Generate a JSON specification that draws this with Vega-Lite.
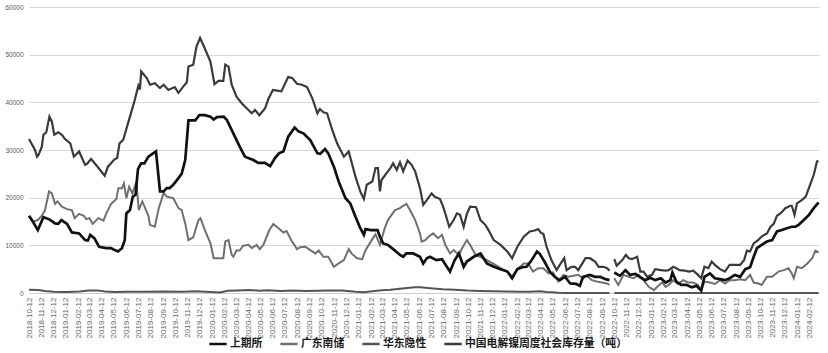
{
"$schema": "https://vega.github.io/schema/vega-lite/v6.json",
"autosize": "none",
"width": 790,
"height": 286,
"padding": {"left": 29, "top": 7, "right": 9, "bottom": 60},
"background": "#ffffff",
"config": {"view": {"stroke": null}, "font": "Liberation Sans"},
"encoding": {
  "x": {"field": "d", "type": "temporal", "title": null,
    "scale": {"type": "utc", "domain": [{"year": 2018, "month": 10, "date": 12, "utc": true}, {"year": 2024, "month": 3, "date": 6, "utc": true}]},
    "axis": {"format": "%Y-%m-%d", "labelAngle": -90, "labelFontSize": 8, "labelColor": "#666666", "labelPadding": 4, "labelOverlap": false, "labelBound": false, "labelFlush": false, "ticks": false, "grid": false, "domain": true, "domainColor": "#cfcfcf", "domainWidth": 1,
      "values": [
        {"year":2018,"month":10,"date":12,"utc":true},{"year":2018,"month":11,"date":12,"utc":true},{"year":2018,"month":12,"date":12,"utc":true},
        {"year":2019,"month":1,"date":12,"utc":true},{"year":2019,"month":2,"date":12,"utc":true},{"year":2019,"month":3,"date":12,"utc":true},{"year":2019,"month":4,"date":12,"utc":true},{"year":2019,"month":5,"date":12,"utc":true},{"year":2019,"month":6,"date":12,"utc":true},{"year":2019,"month":7,"date":12,"utc":true},{"year":2019,"month":8,"date":12,"utc":true},{"year":2019,"month":9,"date":12,"utc":true},{"year":2019,"month":10,"date":12,"utc":true},{"year":2019,"month":11,"date":12,"utc":true},{"year":2019,"month":12,"date":12,"utc":true},
        {"year":2020,"month":1,"date":12,"utc":true},{"year":2020,"month":2,"date":12,"utc":true},{"year":2020,"month":3,"date":12,"utc":true},{"year":2020,"month":4,"date":12,"utc":true},{"year":2020,"month":5,"date":12,"utc":true},{"year":2020,"month":6,"date":12,"utc":true},{"year":2020,"month":7,"date":12,"utc":true},{"year":2020,"month":8,"date":12,"utc":true},{"year":2020,"month":9,"date":12,"utc":true},{"year":2020,"month":10,"date":12,"utc":true},{"year":2020,"month":11,"date":12,"utc":true},{"year":2020,"month":12,"date":12,"utc":true},
        {"year":2021,"month":1,"date":12,"utc":true},{"year":2021,"month":2,"date":12,"utc":true},{"year":2021,"month":3,"date":12,"utc":true},{"year":2021,"month":4,"date":12,"utc":true},{"year":2021,"month":5,"date":12,"utc":true},{"year":2021,"month":6,"date":12,"utc":true},{"year":2021,"month":7,"date":12,"utc":true},{"year":2021,"month":8,"date":12,"utc":true},{"year":2021,"month":9,"date":12,"utc":true},{"year":2021,"month":10,"date":12,"utc":true},{"year":2021,"month":11,"date":12,"utc":true},{"year":2021,"month":12,"date":12,"utc":true},
        {"year":2022,"month":1,"date":12,"utc":true},{"year":2022,"month":2,"date":12,"utc":true},{"year":2022,"month":3,"date":12,"utc":true},{"year":2022,"month":4,"date":12,"utc":true},{"year":2022,"month":5,"date":12,"utc":true},{"year":2022,"month":6,"date":12,"utc":true},{"year":2022,"month":7,"date":12,"utc":true},{"year":2022,"month":8,"date":12,"utc":true},{"year":2022,"month":9,"date":12,"utc":true},{"year":2022,"month":10,"date":12,"utc":true},{"year":2022,"month":11,"date":12,"utc":true},{"year":2022,"month":12,"date":12,"utc":true},
        {"year":2023,"month":1,"date":12,"utc":true},{"year":2023,"month":2,"date":12,"utc":true},{"year":2023,"month":3,"date":12,"utc":true},{"year":2023,"month":4,"date":12,"utc":true},{"year":2023,"month":5,"date":12,"utc":true},{"year":2023,"month":6,"date":12,"utc":true},{"year":2023,"month":7,"date":12,"utc":true},{"year":2023,"month":8,"date":12,"utc":true},{"year":2023,"month":9,"date":12,"utc":true},{"year":2023,"month":10,"date":12,"utc":true},{"year":2023,"month":11,"date":12,"utc":true},{"year":2023,"month":12,"date":12,"utc":true},
        {"year":2024,"month":1,"date":12,"utc":true},{"year":2024,"month":2,"date":12,"utc":true}
      ]}},
  "y": {"field": "v", "type": "quantitative", "title": null,
    "scale": {"domain": [0, 60000], "nice": false},
    "axis": {"values": [0, 10000, 20000, 30000, 40000, 50000, 60000], "format": "d", "labelFontSize": 6.5, "labelColor": "#595959", "labelPadding": 6, "domain": false, "ticks": false, "grid": true, "gridColor": "#d9d9d9", "gridWidth": 1}}
},
"layer": [
{
"data": {"values": [{"d":"2018-10-12","v":700},{"d":"2018-11-05","v":650},{"d":"2018-11-20","v":400},{"d":"2018-12-12","v":250},{"d":"2019-01-15","v":200},{"d":"2019-02-15","v":300},{"d":"2019-03-10","v":500},{"d":"2019-04-01","v":550},{"d":"2019-04-20","v":300},{"d":"2019-05-15","v":200},{"d":"2019-06-15","v":250},{"d":"2019-08-01","v":250},{"d":"2019-09-15","v":300},{"d":"2019-11-01","v":250},{"d":"2019-12-01","v":350},{"d":"2020-01-08","v":200},{"d":"2020-02-01","v":100},{"d":"2020-02-20","v":450},{"d":"2020-03-15","v":550},{"d":"2020-04-15","v":650},{"d":"2020-05-10","v":450},{"d":"2020-06-01","v":600},{"d":"2020-07-01","v":400},{"d":"2020-08-01","v":500},{"d":"2020-09-01","v":400},{"d":"2020-10-01","v":450},{"d":"2020-11-01","v":550},{"d":"2020-12-01","v":500},{"d":"2021-01-05","v":250},{"d":"2021-01-25","v":150},{"d":"2021-02-15","v":350},{"d":"2021-03-10","v":600},{"d":"2021-04-01","v":700},{"d":"2021-05-01","v":950},{"d":"2021-06-01","v":1200},{"d":"2021-06-15","v":1200},{"d":"2021-07-10","v":1000},{"d":"2021-08-10","v":800},{"d":"2021-09-10","v":700},{"d":"2021-10-10","v":500},{"d":"2021-11-10","v":400},{"d":"2021-12-15","v":350},{"d":"2022-01-15","v":300},{"d":"2022-02-15","v":250},{"d":"2022-03-15","v":250},{"d":"2022-04-10","v":350},{"d":"2022-04-25","v":200},{"d":"2022-05-10","v":150},{"d":"2022-05-25","v":50},{"d":"2022-06-12","v":0},{"d":"2022-09-30","v":0},{"d":"2022-10-06","v":null},{"d":"2022-10-12","v":0},{"d":"2024-03-05","v":0}]},
"mark": {"type": "line", "strokeWidth": 2, "interpolate": "linear"},
"encoding": {"color": {"datum": "华东隐性", "type": "nominal",
  "scale": {"domain": ["上期所", "广东南储", "华东隐性", "中国电解镍周度社会库存量（吨）"], "range": ["#111111", "#707070", "#555555", "#3b3b3b"]},
  "legend": {"title": null, "orient": "none", "legendX": 179, "legendY": 327, "direction": "horizontal", "symbolType": "stroke", "symbolSize": 300, "symbolStrokeWidth": 2.5, "labelFont": "Noto Sans CJK SC", "labelFontSize": 10.8, "labelFontWeight": "bold", "labelColor": "#1a1a1a", "labelOffset": 2, "columnPadding": 12, "labelLimit": 300}}}
},
{
"data": {"values": [{"d":"2018-10-12","v":16000},{"d":"2018-10-23","v":15000},{"d":"2018-11-03","v":15300},{"d":"2018-11-13","v":16200},{"d":"2018-11-21","v":17400},{"d":"2018-12-01","v":21300},{"d":"2018-12-08","v":20900},{"d":"2018-12-16","v":18700},{"d":"2018-12-22","v":19200},{"d":"2019-01-02","v":18100},{"d":"2019-01-15","v":17600},{"d":"2019-01-27","v":17400},{"d":"2019-02-03","v":15700},{"d":"2019-02-14","v":16600},{"d":"2019-02-26","v":16200},{"d":"2019-03-04","v":15500},{"d":"2019-03-12","v":15700},{"d":"2019-03-20","v":14500},{"d":"2019-04-03","v":15700},{"d":"2019-04-16","v":15200},{"d":"2019-04-23","v":16700},{"d":"2019-05-05","v":18700},{"d":"2019-05-18","v":19700},{"d":"2019-05-23","v":22000},{"d":"2019-06-01","v":22000},{"d":"2019-06-06","v":23000},{"d":"2019-06-12","v":19900},{"d":"2019-06-19","v":22300},{"d":"2019-06-27","v":20900},{"d":"2019-07-03","v":22300},{"d":"2019-07-07","v":23400},{"d":"2019-07-13","v":17400},{"d":"2019-07-22","v":19200},{"d":"2019-08-06","v":16200},{"d":"2019-08-10","v":14300},{"d":"2019-08-22","v":13900},{"d":"2019-09-01","v":17800},{"d":"2019-09-13","v":21000},{"d":"2019-09-21","v":20200},{"d":"2019-10-07","v":19900},{"d":"2019-10-20","v":17800},{"d":"2019-10-28","v":17400},{"d":"2019-11-06","v":14600},{"d":"2019-11-14","v":11100},{"d":"2019-11-26","v":11700},{"d":"2019-12-09","v":15300},{"d":"2019-12-14","v":15700},{"d":"2019-12-25","v":13200},{"d":"2020-01-08","v":10400},{"d":"2020-01-16","v":7300},{"d":"2020-02-09","v":7300},{"d":"2020-02-14","v":10800},{"d":"2020-02-22","v":11100},{"d":"2020-03-01","v":8000},{"d":"2020-03-05","v":7600},{"d":"2020-03-13","v":8900},{"d":"2020-03-21","v":8900},{"d":"2020-03-29","v":9900},{"d":"2020-04-12","v":10100},{"d":"2020-04-20","v":9400},{"d":"2020-05-02","v":10100},{"d":"2020-05-10","v":9200},{"d":"2020-05-19","v":10100},{"d":"2020-06-03","v":13200},{"d":"2020-06-13","v":14500},{"d":"2020-06-26","v":13600},{"d":"2020-07-08","v":12700},{"d":"2020-07-16","v":13000},{"d":"2020-07-28","v":11000},{"d":"2020-08-11","v":9200},{"d":"2020-08-19","v":9600},{"d":"2020-09-01","v":9700},{"d":"2020-09-13","v":9000},{"d":"2020-09-26","v":8300},{"d":"2020-10-04","v":8900},{"d":"2020-10-16","v":7600},{"d":"2020-10-28","v":7600},{"d":"2020-11-11","v":5500},{"d":"2020-11-23","v":6200},{"d":"2020-12-06","v":6900},{"d":"2020-12-18","v":9200},{"d":"2020-12-26","v":8200},{"d":"2021-01-08","v":7300},{"d":"2021-01-21","v":7100},{"d":"2021-01-29","v":9000},{"d":"2021-02-15","v":11300},{"d":"2021-02-23","v":12300},{"d":"2021-03-06","v":10100},{"d":"2021-03-18","v":13600},{"d":"2021-03-26","v":15300},{"d":"2021-04-04","v":16400},{"d":"2021-04-13","v":17400},{"d":"2021-04-25","v":17800},{"d":"2021-05-03","v":18300},{"d":"2021-05-11","v":18700},{"d":"2021-05-20","v":17400},{"d":"2021-06-02","v":15300},{"d":"2021-06-14","v":12500},{"d":"2021-06-18","v":10800},{"d":"2021-06-27","v":11100},{"d":"2021-07-05","v":11800},{"d":"2021-07-17","v":12500},{"d":"2021-07-29","v":11500},{"d":"2021-08-08","v":12200},{"d":"2021-08-16","v":10100},{"d":"2021-08-28","v":8300},{"d":"2021-09-06","v":9000},{"d":"2021-09-19","v":8000},{"d":"2021-09-27","v":9400},{"d":"2021-10-09","v":11100},{"d":"2021-10-17","v":10100},{"d":"2021-11-01","v":7800},{"d":"2021-11-12","v":7600},{"d":"2021-11-28","v":6900},{"d":"2021-12-15","v":6100},{"d":"2022-01-01","v":5200},{"d":"2022-01-18","v":4500},{"d":"2022-01-30","v":3400},{"d":"2022-02-12","v":5000},{"d":"2022-02-28","v":6200},{"d":"2022-03-11","v":6200},{"d":"2022-03-23","v":4500},{"d":"2022-04-05","v":5200},{"d":"2022-04-18","v":5200},{"d":"2022-05-01","v":4100},{"d":"2022-05-12","v":4300},{"d":"2022-05-25","v":2400},{"d":"2022-06-07","v":3800},{"d":"2022-06-19","v":3400},{"d":"2022-07-02","v":3600},{"d":"2022-07-14","v":3800},{"d":"2022-07-26","v":3100},{"d":"2022-08-04","v":3600},{"d":"2022-08-17","v":2700},{"d":"2022-08-29","v":2400},{"d":"2022-09-11","v":2200},{"d":"2022-09-24","v":2000},{"d":"2022-09-30","v":1700},{"d":"2022-10-06","v":null},{"d":"2022-10-12","v":3100},{"d":"2022-10-22","v":1700},{"d":"2022-11-04","v":3800},{"d":"2022-11-17","v":3400},{"d":"2022-11-29","v":3100},{"d":"2022-12-12","v":3800},{"d":"2022-12-24","v":2700},{"d":"2023-01-06","v":1300},{"d":"2023-01-19","v":600},{"d":"2023-01-27","v":1300},{"d":"2023-02-09","v":2200},{"d":"2023-02-17","v":1300},{"d":"2023-03-01","v":2000},{"d":"2023-03-08","v":2700},{"d":"2023-03-20","v":1900},{"d":"2023-04-02","v":2700},{"d":"2023-04-14","v":2200},{"d":"2023-04-27","v":2200},{"d":"2023-05-09","v":1700},{"d":"2023-05-17","v":600},{"d":"2023-05-25","v":2400},{"d":"2023-06-08","v":2200},{"d":"2023-06-20","v":1900},{"d":"2023-07-03","v":2700},{"d":"2023-07-15","v":2000},{"d":"2023-07-27","v":2700},{"d":"2023-08-09","v":2700},{"d":"2023-08-22","v":2900},{"d":"2023-09-04","v":2700},{"d":"2023-09-16","v":3800},{"d":"2023-09-25","v":2200},{"d":"2023-10-07","v":2000},{"d":"2023-10-15","v":1700},{"d":"2023-10-28","v":3400},{"d":"2023-11-10","v":3400},{"d":"2023-11-26","v":4500},{"d":"2023-12-09","v":4800},{"d":"2023-12-21","v":5200},{"d":"2023-12-29","v":4100},{"d":"2024-01-03","v":3100},{"d":"2024-01-11","v":5500},{"d":"2024-01-23","v":5200},{"d":"2024-02-06","v":6200},{"d":"2024-02-18","v":7300},{"d":"2024-02-26","v":8900},{"d":"2024-03-05","v":8500}]},
"mark": {"type": "line", "strokeWidth": 2, "interpolate": "linear"},
"encoding": {"color": {"datum": "广东南储", "type": "nominal"}}
},
{
"data": {"values": [{"d":"2018-10-12","v":32300},{"d":"2018-10-27","v":30000},{"d":"2018-11-01","v":28600},{"d":"2018-11-05","v":29000},{"d":"2018-11-13","v":30700},{"d":"2018-11-17","v":33200},{"d":"2018-11-24","v":33700},{"d":"2018-12-02","v":37000},{"d":"2018-12-08","v":36000},{"d":"2018-12-14","v":33200},{"d":"2018-12-24","v":33700},{"d":"2019-01-02","v":33200},{"d":"2019-01-10","v":32300},{"d":"2019-01-23","v":31400},{"d":"2019-02-01","v":28600},{"d":"2019-02-14","v":29700},{"d":"2019-03-01","v":26900},{"d":"2019-03-06","v":27100},{"d":"2019-03-16","v":28100},{"d":"2019-03-28","v":26900},{"d":"2019-04-19","v":24600},{"d":"2019-04-27","v":26500},{"d":"2019-05-14","v":28100},{"d":"2019-05-20","v":28300},{"d":"2019-05-26","v":31400},{"d":"2019-06-04","v":32100},{"d":"2019-06-21","v":37000},{"d":"2019-07-03","v":40500},{"d":"2019-07-12","v":43500},{"d":"2019-07-16","v":42700},{"d":"2019-07-19","v":46500},{"d":"2019-08-02","v":45100},{"d":"2019-08-10","v":43700},{"d":"2019-08-22","v":44000},{"d":"2019-09-04","v":43000},{"d":"2019-09-13","v":43700},{"d":"2019-09-25","v":42600},{"d":"2019-10-11","v":43200},{"d":"2019-10-20","v":42000},{"d":"2019-11-01","v":43300},{"d":"2019-11-10","v":44200},{"d":"2019-11-14","v":47500},{"d":"2019-11-26","v":47900},{"d":"2019-12-04","v":51700},{"d":"2019-12-13","v":53500},{"d":"2019-12-25","v":51300},{"d":"2020-01-08","v":48500},{"d":"2020-01-18","v":43800},{"d":"2020-01-28","v":44500},{"d":"2020-02-09","v":44500},{"d":"2020-02-14","v":47900},{"d":"2020-02-22","v":47500},{"d":"2020-03-01","v":43700},{"d":"2020-03-13","v":41200},{"d":"2020-03-26","v":39800},{"d":"2020-04-08","v":38700},{"d":"2020-04-20","v":37700},{"d":"2020-04-28","v":38400},{"d":"2020-05-09","v":37300},{"d":"2020-05-23","v":38700},{"d":"2020-06-01","v":40800},{"d":"2020-06-12","v":42600},{"d":"2020-06-26","v":42400},{"d":"2020-07-03","v":42300},{"d":"2020-07-20","v":45300},{"d":"2020-07-30","v":45100},{"d":"2020-08-11","v":43900},{"d":"2020-08-23","v":43700},{"d":"2020-09-05","v":43200},{"d":"2020-09-18","v":40900},{"d":"2020-10-01","v":37700},{"d":"2020-10-07","v":38600},{"d":"2020-10-16","v":37900},{"d":"2020-10-25","v":37700},{"d":"2020-11-07","v":34200},{"d":"2020-11-19","v":31400},{"d":"2020-12-06","v":28600},{"d":"2020-12-18","v":29700},{"d":"2021-01-04","v":24400},{"d":"2021-01-16","v":21300},{"d":"2021-01-25","v":19700},{"d":"2021-02-01","v":22700},{"d":"2021-02-15","v":23400},{"d":"2021-02-23","v":26200},{"d":"2021-03-01","v":26200},{"d":"2021-03-06","v":21300},{"d":"2021-03-10","v":23700},{"d":"2021-03-22","v":25100},{"d":"2021-04-01","v":26200},{"d":"2021-04-08","v":27200},{"d":"2021-04-17","v":25800},{"d":"2021-04-25","v":27400},{"d":"2021-05-03","v":25500},{"d":"2021-05-14","v":27800},{"d":"2021-05-24","v":26900},{"d":"2021-06-02","v":25500},{"d":"2021-06-14","v":22000},{"d":"2021-06-22","v":18500},{"d":"2021-07-01","v":19500},{"d":"2021-07-13","v":20900},{"d":"2021-07-21","v":20200},{"d":"2021-08-03","v":19700},{"d":"2021-08-10","v":18300},{"d":"2021-08-16","v":16700},{"d":"2021-08-26","v":13900},{"d":"2021-09-06","v":15300},{"d":"2021-09-14","v":16700},{"d":"2021-09-22","v":16400},{"d":"2021-10-01","v":13900},{"d":"2021-10-09","v":16600},{"d":"2021-10-17","v":18100},{"d":"2021-11-01","v":18000},{"d":"2021-11-12","v":15300},{"d":"2021-11-24","v":14300},{"d":"2021-12-02","v":13200},{"d":"2021-12-15","v":11100},{"d":"2022-01-01","v":10100},{"d":"2022-01-18","v":8700},{"d":"2022-01-30","v":7300},{"d":"2022-02-12","v":9700},{"d":"2022-02-28","v":11800},{"d":"2022-03-15","v":12900},{"d":"2022-03-27","v":13100},{"d":"2022-04-05","v":13400},{"d":"2022-04-12","v":12600},{"d":"2022-04-18","v":12400},{"d":"2022-04-26","v":9700},{"d":"2022-05-08","v":6900},{"d":"2022-05-21","v":4800},{"d":"2022-05-29","v":5900},{"d":"2022-06-09","v":7300},{"d":"2022-06-15","v":4800},{"d":"2022-06-27","v":5500},{"d":"2022-07-06","v":5500},{"d":"2022-07-14","v":4800},{"d":"2022-07-22","v":5900},{"d":"2022-08-01","v":7300},{"d":"2022-08-12","v":7300},{"d":"2022-08-25","v":6600},{"d":"2022-09-03","v":5500},{"d":"2022-09-15","v":5500},{"d":"2022-09-24","v":5200},{"d":"2022-09-30","v":4700},{"d":"2022-10-06","v":null},{"d":"2022-10-12","v":7100},{"d":"2022-10-18","v":5700},{"d":"2022-11-01","v":6900},{"d":"2022-11-10","v":8000},{"d":"2022-11-17","v":7300},{"d":"2022-11-25","v":7100},{"d":"2022-12-08","v":7600},{"d":"2022-12-16","v":4500},{"d":"2022-12-24","v":4500},{"d":"2023-01-02","v":3400},{"d":"2023-01-14","v":3800},{"d":"2023-01-22","v":5000},{"d":"2023-02-05","v":4800},{"d":"2023-02-17","v":4700},{"d":"2023-02-25","v":4800},{"d":"2023-03-08","v":5500},{"d":"2023-03-16","v":5200},{"d":"2023-03-24","v":4800},{"d":"2023-04-06","v":4700},{"d":"2023-04-17","v":4500},{"d":"2023-04-27","v":4700},{"d":"2023-05-09","v":3800},{"d":"2023-05-17","v":3100},{"d":"2023-05-25","v":5500},{"d":"2023-06-04","v":5200},{"d":"2023-06-12","v":6600},{"d":"2023-06-20","v":5900},{"d":"2023-07-03","v":5000},{"d":"2023-07-15","v":4500},{"d":"2023-07-27","v":5900},{"d":"2023-08-09","v":5900},{"d":"2023-08-22","v":5900},{"d":"2023-09-01","v":6900},{"d":"2023-09-08","v":8900},{"d":"2023-09-16","v":8700},{"d":"2023-09-25","v":10400},{"d":"2023-10-06","v":11100},{"d":"2023-10-14","v":11800},{"d":"2023-10-28","v":12500},{"d":"2023-11-06","v":13900},{"d":"2023-11-14","v":14500},{"d":"2023-11-22","v":16200},{"d":"2023-12-01","v":16700},{"d":"2023-12-13","v":17800},{"d":"2023-12-25","v":18300},{"d":"2023-12-29","v":18300},{"d":"2024-01-05","v":16400},{"d":"2024-01-11","v":18800},{"d":"2024-01-23","v":19500},{"d":"2024-02-02","v":20200},{"d":"2024-02-14","v":23000},{"d":"2024-02-22","v":24800},{"d":"2024-03-01","v":27600},{"d":"2024-03-05","v":27700}]},
"mark": {"type": "line", "strokeWidth": 2.2, "interpolate": "linear"},
"encoding": {"color": {"datum": "中国电解镍周度社会库存量（吨）", "type": "nominal"}}
},
{
"data": {"values": [{"d":"2018-10-12","v":16200},{"d":"2018-10-23","v":14800},{"d":"2018-11-03","v":13200},{"d":"2018-11-17","v":15900},{"d":"2018-12-01","v":15500},{"d":"2018-12-16","v":14600},{"d":"2018-12-24","v":14500},{"d":"2019-01-01","v":15300},{"d":"2019-01-15","v":14500},{"d":"2019-01-27","v":12700},{"d":"2019-02-14","v":12500},{"d":"2019-03-01","v":11100},{"d":"2019-03-08","v":11000},{"d":"2019-03-14","v":12200},{"d":"2019-03-24","v":11500},{"d":"2019-04-05","v":9700},{"d":"2019-04-23","v":9400},{"d":"2019-05-05","v":9400},{"d":"2019-05-14","v":9000},{"d":"2019-05-22","v":8700},{"d":"2019-06-01","v":9400},{"d":"2019-06-08","v":11100},{"d":"2019-06-12","v":16700},{"d":"2019-06-21","v":17400},{"d":"2019-06-28","v":20200},{"d":"2019-07-05","v":20600},{"d":"2019-07-11","v":26000},{"d":"2019-07-19","v":27200},{"d":"2019-07-27","v":27200},{"d":"2019-08-06","v":28600},{"d":"2019-08-16","v":29200},{"d":"2019-08-25","v":29700},{"d":"2019-09-04","v":21300},{"d":"2019-09-13","v":21300},{"d":"2019-09-21","v":22000},{"d":"2019-09-28","v":22000},{"d":"2019-10-07","v":22700},{"d":"2019-10-20","v":24100},{"d":"2019-10-28","v":25000},{"d":"2019-11-06","v":27900},{"d":"2019-11-14","v":36200},{"d":"2019-11-22","v":36200},{"d":"2019-12-01","v":36200},{"d":"2019-12-11","v":37300},{"d":"2019-12-25","v":37300},{"d":"2020-01-08","v":37000},{"d":"2020-01-16","v":36400},{"d":"2020-01-24","v":36900},{"d":"2020-02-10","v":37000},{"d":"2020-02-18","v":36300},{"d":"2020-03-05","v":33500},{"d":"2020-03-21","v":30700},{"d":"2020-04-03","v":28600},{"d":"2020-04-24","v":27900},{"d":"2020-05-06","v":27300},{"d":"2020-05-23","v":27300},{"d":"2020-06-05","v":26600},{"d":"2020-06-17","v":28300},{"d":"2020-06-27","v":29300},{"d":"2020-07-08","v":29700},{"d":"2020-07-20","v":32800},{"d":"2020-08-05","v":34700},{"d":"2020-08-15","v":33900},{"d":"2020-08-27","v":33500},{"d":"2020-09-13","v":32100},{"d":"2020-10-01","v":29300},{"d":"2020-10-08","v":29200},{"d":"2020-10-20","v":30200},{"d":"2020-10-28","v":29300},{"d":"2020-11-11","v":26500},{"d":"2020-11-23","v":23400},{"d":"2020-12-10","v":19900},{"d":"2020-12-22","v":18800},{"d":"2021-01-04","v":16000},{"d":"2021-01-16","v":13600},{"d":"2021-01-25","v":12200},{"d":"2021-01-29","v":13400},{"d":"2021-02-11","v":13200},{"d":"2021-02-28","v":13200},{"d":"2021-03-06","v":11800},{"d":"2021-03-14","v":10400},{"d":"2021-03-26","v":10100},{"d":"2021-04-08","v":9200},{"d":"2021-04-25","v":8000},{"d":"2021-05-03","v":7600},{"d":"2021-05-11","v":8300},{"d":"2021-05-28","v":8300},{"d":"2021-06-14","v":7600},{"d":"2021-06-22","v":6200},{"d":"2021-07-01","v":7300},{"d":"2021-07-09","v":7600},{"d":"2021-07-25","v":6900},{"d":"2021-08-08","v":7100},{"d":"2021-08-20","v":5500},{"d":"2021-08-28","v":4500},{"d":"2021-09-08","v":6800},{"d":"2021-09-19","v":8300},{"d":"2021-10-01","v":5500},{"d":"2021-10-09","v":6600},{"d":"2021-10-26","v":7600},{"d":"2021-11-12","v":8300},{"d":"2021-11-28","v":6200},{"d":"2021-12-15","v":5500},{"d":"2022-01-01","v":5000},{"d":"2022-01-18","v":4500},{"d":"2022-01-30","v":3100},{"d":"2022-02-12","v":5000},{"d":"2022-02-24","v":5400},{"d":"2022-03-07","v":5500},{"d":"2022-03-19","v":6800},{"d":"2022-04-02","v":8700},{"d":"2022-04-09","v":8200},{"d":"2022-04-22","v":6400},{"d":"2022-05-04","v":4500},{"d":"2022-05-16","v":3400},{"d":"2022-05-29","v":2700},{"d":"2022-06-11","v":3400},{"d":"2022-06-24","v":2000},{"d":"2022-07-09","v":1900},{"d":"2022-07-18","v":1500},{"d":"2022-07-26","v":3400},{"d":"2022-08-12","v":3800},{"d":"2022-08-25","v":3400},{"d":"2022-09-07","v":3400},{"d":"2022-09-20","v":2900},{"d":"2022-09-30","v":2700},{"d":"2022-10-06","v":null},{"d":"2022-10-12","v":4300},{"d":"2022-10-26","v":3600},{"d":"2022-11-09","v":4800},{"d":"2022-11-20","v":3800},{"d":"2022-12-04","v":4000},{"d":"2022-12-16","v":3300},{"d":"2022-12-28","v":2700},{"d":"2023-01-10","v":3200},{"d":"2023-01-22","v":2700},{"d":"2023-02-05","v":3100},{"d":"2023-02-17","v":2200},{"d":"2023-03-01","v":2700},{"d":"2023-03-06","v":4300},{"d":"2023-03-16","v":2400},{"d":"2023-03-28","v":1700},{"d":"2023-04-10","v":1700},{"d":"2023-04-23","v":1200},{"d":"2023-05-05","v":1500},{"d":"2023-05-17","v":500},{"d":"2023-05-25","v":3400},{"d":"2023-06-08","v":4100},{"d":"2023-06-20","v":3100},{"d":"2023-07-03","v":2900},{"d":"2023-07-15","v":2700},{"d":"2023-07-27","v":3100},{"d":"2023-08-09","v":3800},{"d":"2023-08-22","v":3400},{"d":"2023-09-04","v":5000},{"d":"2023-09-16","v":5400},{"d":"2023-09-25","v":7600},{"d":"2023-10-03","v":9400},{"d":"2023-10-15","v":10100},{"d":"2023-10-28","v":10800},{"d":"2023-11-10","v":11100},{"d":"2023-11-22","v":12900},{"d":"2023-12-04","v":13200},{"d":"2023-12-17","v":13600},{"d":"2023-12-29","v":13900},{"d":"2024-01-07","v":13900},{"d":"2024-01-15","v":14300},{"d":"2024-01-28","v":15300},{"d":"2024-02-10","v":16400},{"d":"2024-02-22","v":17800},{"d":"2024-03-05","v":19000}]},
"mark": {"type": "line", "strokeWidth": 2.7, "interpolate": "linear"},
"encoding": {"color": {"datum": "上期所", "type": "nominal"}}
}
]
}
